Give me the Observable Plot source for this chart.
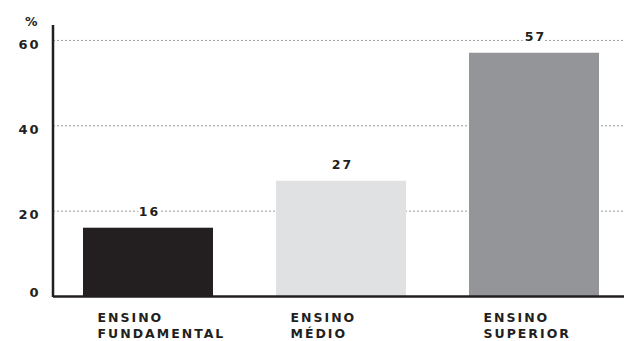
<!DOCTYPE html>
<html>
<head>
<meta charset="utf-8">
<script src="https://cdn.jsdelivr.net/npm/d3@7"></script>
<script src="https://cdn.jsdelivr.net/npm/@observablehq/plot@0.6"></script>
<style>
  html, body { margin: 0; padding: 0; background: #fff; }
  #chart { width: 624px; height: 341px; }
</style>
</head>
<body>
<div id="chart"></div>
<script>
const categories = ["ENSINO\nFUNDAMENTAL", "ENSINO\nMÉDIO", "ENSINO\nSUPERIOR"];
const values = [16, 27, 57];
const colors = ["#231f20", "#e0e1e2", "#939598"];
const yTicks = [20, 40, 60];
const unitLabel = "%";

const data = categories.map((c, i) => ({cat: c, value: values[i], color: colors[i]}));
const ink = "#231f20";

const plot = Plot.plot({
  width: 624,
  height: 341,
  marginLeft: 53,
  marginRight: 0,
  marginTop: 25,
  marginBottom: 45,
  style: {fontFamily: "'DejaVu Sans', sans-serif", fontWeight: "bold", fontSize: "12px", letterSpacing: "2px", color: ink, background: "#fff"},
  x: {domain: categories, range: [53, 630], paddingInner: 0.325, paddingOuter: 0.15, axis: null},
  y: {domain: [0, 63.5], axis: null},
  marks: [
    Plot.gridY(yTicks, {stroke: "#9a9a9a", strokeOpacity: 1, strokeDasharray: "2,2", strokeWidth: 1}),
    Plot.barY(data, {x: "cat", y: "value", fill: "color"}),
    Plot.ruleY([0], {stroke: ink, strokeWidth: 2.5}),
    Plot.axisY(yTicks, {label: null, tickSize: 0, tickPadding: 13, dy: 4, fill: ink, fontSize: 13}),
    Plot.axisY([0], {label: null, tickSize: 0, tickPadding: 13, dy: -4, fill: ink, fontSize: 13}),
    Plot.text(data, {x: "cat", y: "value", text: d => String(d.value), dy: -16, dx: 1, fill: ink, stroke: "white", strokeWidth: 6, fontSize: 12.5}),
    Plot.text(data, {x: "cat", text: "cat", frameAnchor: "bottom", dy: 14, dx: -51, textAnchor: "start", lineAnchor: "top", lineHeight: 1.28, fill: ink, fontSize: 12.5}),
    Plot.text([unitLabel], {frameAnchor: "top-left", dx: -14, dy: -8, textAnchor: "end", fill: ink, fontSize: 12.5})
  ]
});

// vertical y-axis line along the frame's left edge, from the y scale
const ys = plot.scale("y");
const yTop = ys.apply(ys.domain[1]);
const yBot = ys.apply(0);
d3.select(plot).append("line")
  .attr("x1", 53).attr("x2", 53)
  .attr("y1", yTop).attr("y2", yBot + 1)
  .attr("stroke", ink).attr("stroke-width", 2.5);

document.getElementById("chart").appendChild(plot);
</script>
</body>
</html>
